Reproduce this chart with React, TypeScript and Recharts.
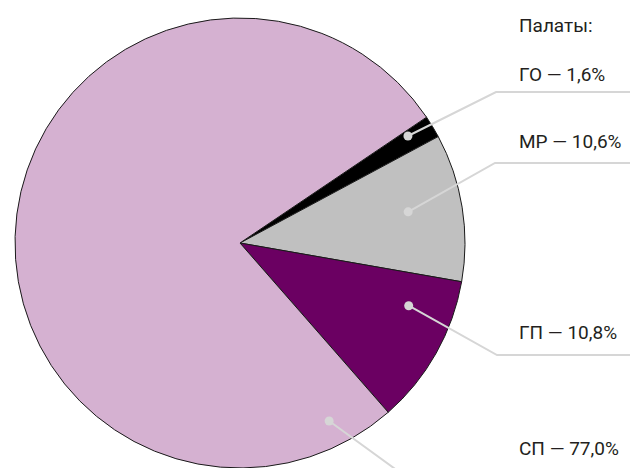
import { PieChart, Pie, Cell } from "recharts";

const wards = ["ГО", "МР", "ГП", "СП"];
const shares = [1.6, 10.6, 10.8, 77.0];
const title = "Палаты:";

const colors = ["#000000", "#c0c0c0", "#6b0062", "#d5b1d1"];

const data = wards.map((name, i) => ({ name, value: shares[i] }));

// callout layout: dot in polar terms (deg, fraction of radius), elbow and text baseline in px
const callouts = [
  { angle: 32.5, r: 0.885, elbowX: 496, elbowY: 92, textY: 81 },
  { angle: 10.5, r: 0.76, elbowX: 495, elbowY: 163, textY: 148 },
  { angle: -20.4, r: 0.8, elbowX: 497, elbowY: 355, textY: 339 },
  { angle: -63.4, r: 0.885, elbowX: 420, elbowY: 487, textY: 455 },
];

const RAD = Math.PI / 180;
const textX = 519;
const font = "Roboto, 'Liberation Sans', sans-serif";

function Callout(props: any) {
  const { cx, cy, outerRadius, index, name, value } = props;
  const c = callouts[index];
  const dx = cx + Math.cos(c.angle * RAD) * outerRadius * c.r;
  const dy = cy - Math.sin(c.angle * RAD) * outerRadius * c.r;
  return (
    <g>
      <polyline
        points={`${dx},${dy} ${c.elbowX},${c.elbowY} 630,${c.elbowY}`}
        fill="none"
        stroke="#d6d6d6"
        strokeWidth={2}
      />
      <circle cx={dx} cy={dy} r={4.5} fill="#d6d6d6" />
      <text x={textX} y={c.textY} fontSize={19} fontFamily={font} fill="#231f20">
        {`${name} — ${value.toFixed(1).replace(".", ",")}%`}
      </text>
    </g>
  );
}

export default function App() {
  return (
    <div style={{ width: 630, height: 468, position: "relative", background: "#fff" }}>
      <style>{`body{margin:0}`}</style>
      <PieChart width={630} height={468} margin={{ top: 0, right: 0, bottom: 0, left: 0 }}>
        <Pie
          data={data}
          dataKey="value"
          nameKey="name"
          cx={240}
          cy={243}
          outerRadius={225}
          startAngle={34}
          endAngle={-326}
          stroke="#1a1a1a"
          strokeWidth={1}
          label={Callout}
          labelLine={false}
          isAnimationActive={false}
        >
          {data.map((d, i) => (
            <Cell key={d.name} fill={colors[i]} />
          ))}
        </Pie>
        <text x={textX} y={32} fontSize={19} fontFamily={font} fill="#231f20">
          {title}
        </text>
      </PieChart>
    </div>
  );
}
